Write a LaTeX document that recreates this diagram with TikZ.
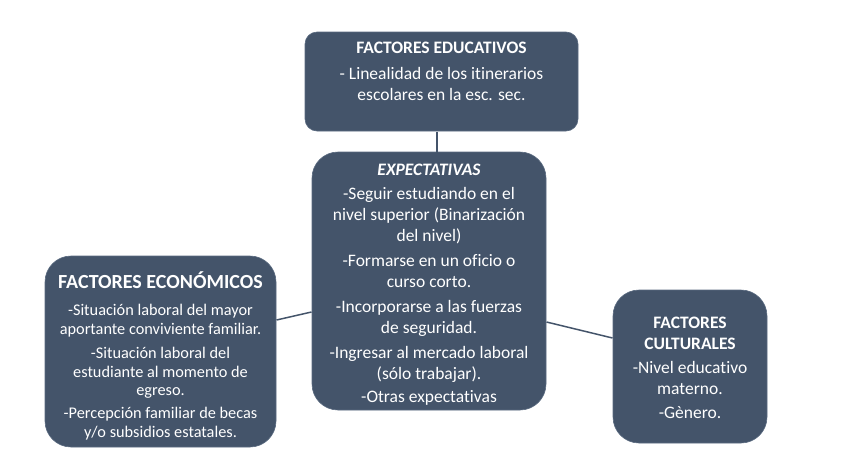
\documentclass[tikz,border=0pt]{standalone}
\usepackage{fontspec}
\setmainfont{Carlito}[Ligatures=NoCommon]
\definecolor{boxfill}{HTML}{44546A}
\definecolor{boxline}{HTML}{5A6A80}
\definecolor{conn}{HTML}{44546A}
\begin{document}
\begin{tikzpicture}[x=1pt,y=-1pt,
  card/.style={draw=boxline,line width=0.6pt,fill=boxfill,rounded corners=#1,inner sep=0pt},
  card/.default=24pt,
  txt/.style={text=white,align=center,inner sep=0pt,anchor=north},
  ttl/.style={text=white,align=center,inner sep=0pt,anchor=base,font=\bfseries\fontsize{17.5}{21}\selectfont},
  link/.style={draw=conn,line width=1.5pt}]
\useasboundingbox (0,0) rectangle (848,461);
% boxes
\node[card=12pt,minimum width=273pt,minimum height=99pt] (edu) at (441.5,81.5) {};
\node[card=26pt,minimum width=234pt,minimum height=258pt] (exp) at (429,281) {};
\node[card=26pt,minimum width=231pt,minimum height=191pt] (eco) at (160.5,351.5) {};
\node[card=26pt,minimum width=154pt,minimum height=153pt] (cul) at (690,366.5) {};
% connectors
\coordinate (eduB) at (437,131.5);
\coordinate (expT) at (437,152.5);
\draw[link] (eduB) -- (expT);
\coordinate (ecoR) at (276.5,320);
\coordinate (expL) at (311.5,312);
\draw[link] (ecoR) -- (expL);
\coordinate (expR) at (546.5,322);
\coordinate (culL) at (612.5,338);
\draw[link] (expR) -- (culL);
% titles
\node[ttl] (edutt) at (441.5,53.2) {FACTORES EDUCATIVOS};
\node[ttl,font=\bfseries\itshape\fontsize{17.5}{21}\selectfont] (exptt) at (429,175.6) {EXPECTATIVAS};
\node[ttl,font=\bfseries\fontsize{20}{24}\selectfont] (ecott) at (160.5,288.4) {FACTORES ECONÓMICOS};
\node[ttl,anchor=north] (cultt) at (690,316.4) {FACTORES\\ CULTURALES};
% bodies
\node[txt,font=\fontsize{17.5}{21}\selectfont] (edut) at (441.5,67.4)
 {- Linealidad de los itinerarios\\ escolares en la esc. sec.};
\node[txt,font=\fontsize{17.5}{21}\selectfont] (expt) at (429,187.2)
 {-Seguir estudiando en el\\ nivel superior (Binarización\\ del nivel)\\[4pt]
 -Formarse en un oficio o\\ curso corto.\\[4pt]
 -Incorporarse a las fuerzas\\ de seguridad.\\[4pt]
 -Ingresar al mercado laboral\\ (sólo trabajar).\\[2pt]
 -Otras expectativas};
\node[txt,font=\fontsize{16.3}{18.5}\selectfont] (ecot) at (160.5,304)
 {-Situación laboral del mayor\\ aportante conviviente familiar.\\[6pt]
 -Situación laboral del\\ estudiante al momento de\\ egreso.\\[4.5pt]
 -Percepción familiar de becas\\ y/o subsidios estatales.};
\node[txt,font=\fontsize{17.5}{21}\selectfont] (cult) at (690,361)
 {-Nivel educativo\\ materno.\\[3pt]
 -Gènero.};
\end{tikzpicture}
\end{document}
